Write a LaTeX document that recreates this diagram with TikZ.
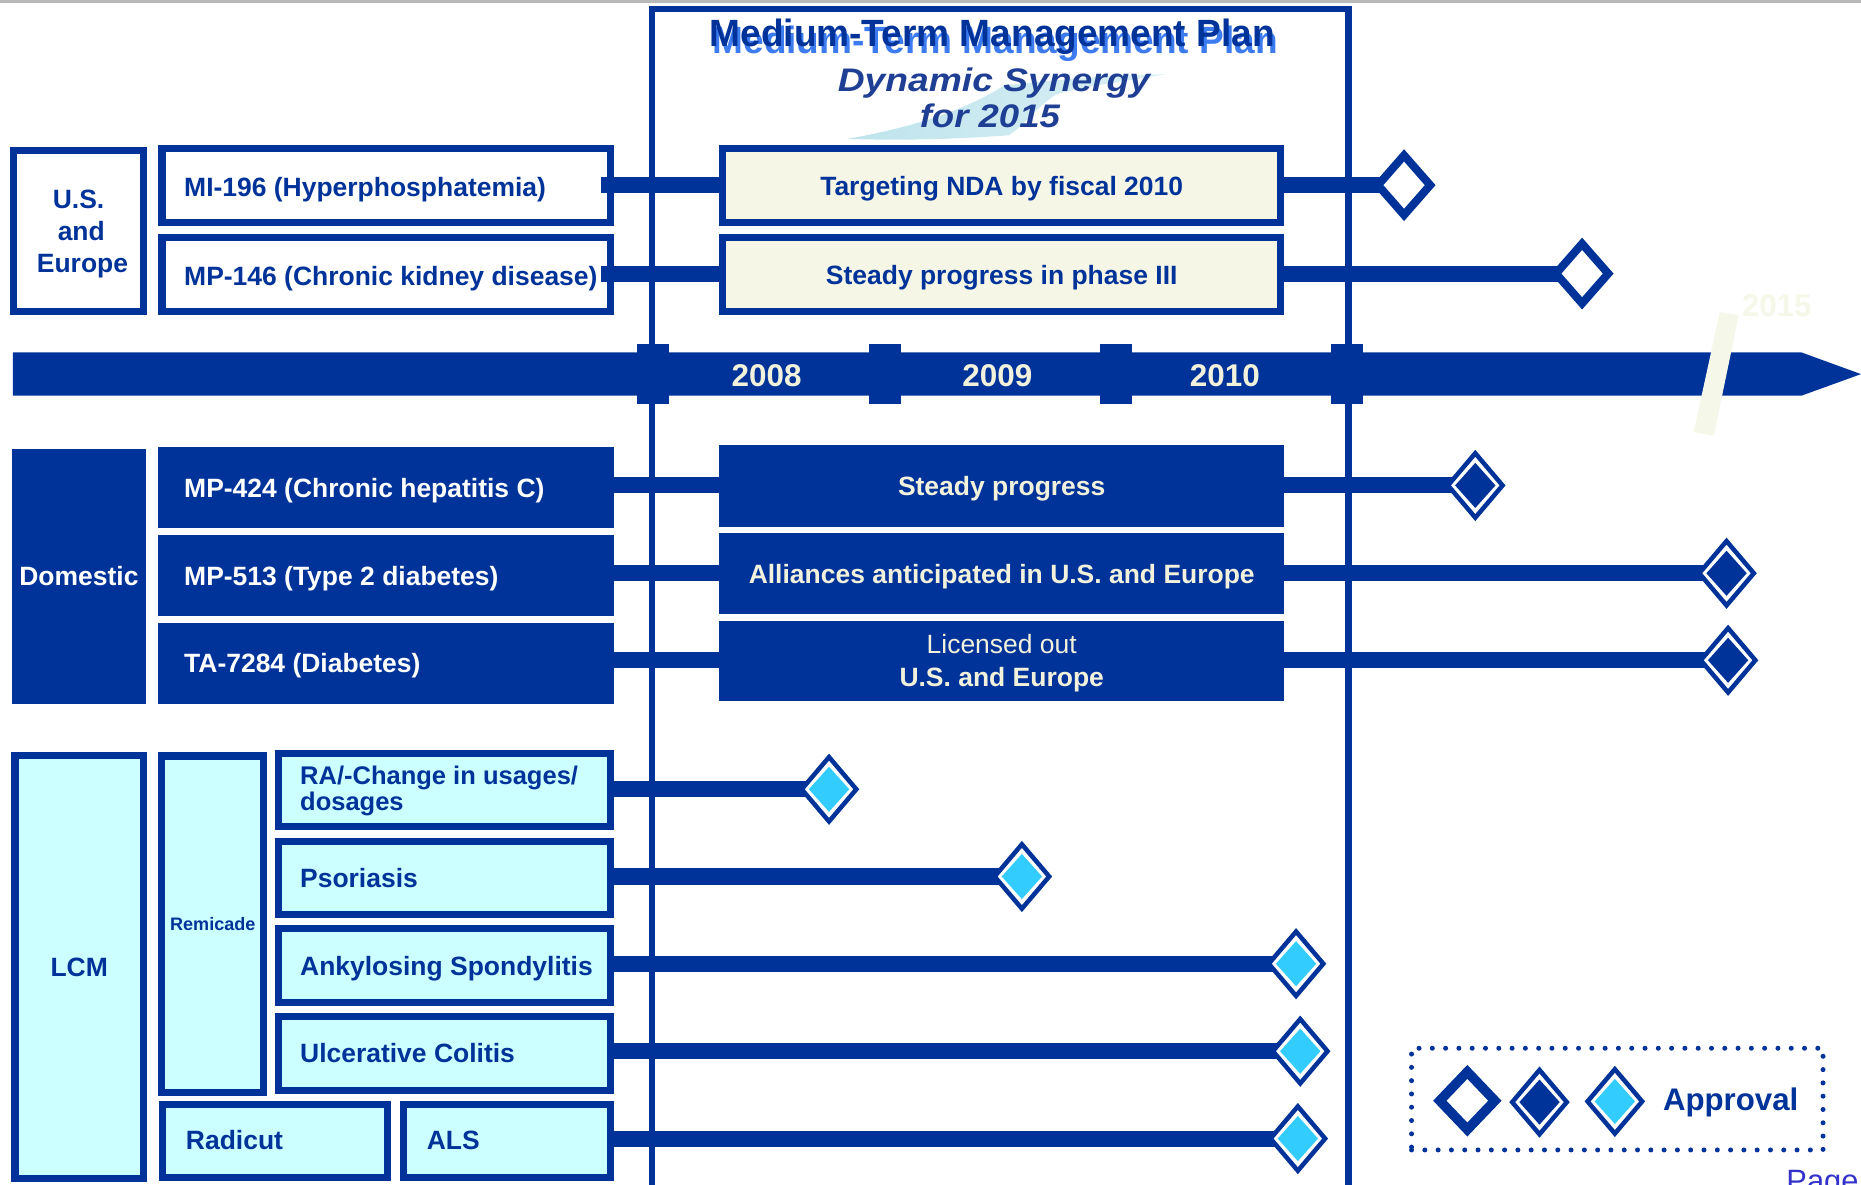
\documentclass[tikz,border=0pt]{standalone}
\usepackage{fontspec}
\setmainfont{Liberation Sans}
\usetikzlibrary{calc}
\definecolor{dblue}{HTML}{003399}
\definecolor{cream}{HTML}{F2F2DC}
\definecolor{boxcream}{HTML}{F6F6E6}
\definecolor{lcmcyan}{HTML}{CCFFFF}
\definecolor{dcyan}{HTML}{33CCFF}
\definecolor{shadowblue}{HTML}{3D7BF0}
\definecolor{logoblue}{HTML}{1F3F94}
\definecolor{swoosh}{HTML}{6FC2D6}
\definecolor{faint}{HTML}{F5F7E8}
\definecolor{pageblue}{HTML}{3333CC}
\newcommand\fsz[2]{\fontsize{#1}{#2}\selectfont}
\tikzset{
  pics/opendia/.style n args={3}{code={
    \filldraw[fill=white, draw=dblue, line width=#3, miter limit=10]
      (-#1,0) -- (0,-#2) -- (#1,0) -- (0,#2) -- cycle;}},
  pics/filldia/.style={code={
    \filldraw[fill=white, draw=dblue, line width=3.8pt]
      (-23,0) -- (0,-27.1) -- (23,0) -- (0,27.1) -- cycle;
    \fill[#1] (-17,0) -- (0,-19) -- (17,0) -- (0,19) -- cycle;}},
}
\begin{document}
\begin{tikzpicture}[x=1pt,y=-1pt,
  box/.style={draw=dblue, line width=6pt, fill=white, inner sep=0pt, outer sep=0pt},
  cbox/.style={box, fill=boxcream},
  lbox/.style={box, fill=lcmcyan},
  dbox/.style={fill=dblue, draw=none, inner sep=0pt, outer sep=0pt},
  lbl/.style={font=\bfseries\fsz{22.3}{27}, text=dblue, inner sep=0pt, text height=16pt, text depth=0pt, anchor=west},
  wlbl/.style={lbl, text=white},
  ctext/.style={font=\bfseries\fsz{22.3}{27}, text height=16pt, text depth=0pt},
  bar/.style={draw=dblue, line width=13.5pt},
  yearlbl/.style={font=\bfseries\fsz{26.5}{30}, text=cream, inner sep=0pt, text height=19pt, text depth=0pt},
  tickblk/.style={fill=dblue}
]
\useasboundingbox (0,0) rectangle (1568,997.6);
\fill[white] (0,0) rectangle (1568,997.6);
\clip (0,0) rectangle (1568,997.6);

% top gray line
\draw[gray!55, line width=2.6pt] (0,1.3) -- (1568,1.3);

% logo swoosh
\shade[left color=swoosh!45!white, middle color=swoosh!85!white, right color=swoosh!25!white]
  (714,117) .. controls (765,108) and (812,94) .. (846,72)
  .. controls (900,66) and (950,63) .. (982,62.5)
  .. controls (945,69) and (905,74) .. (889,80)
  .. controls (872,92) and (862,106) .. (850,114)
  .. controls (800,117.5) and (760,118.5) .. (714,117) -- cycle;

% title
\node[font=\bfseries\fsz{32}{36}, text=shadowblue, anchor=base, inner sep=0pt] (titleS) at (838.5,45) {\scalebox{0.975}[1]{Medium-Term Management Plan}};
\node[font=\bfseries\fsz{32}{36}, text=dblue, anchor=base, inner sep=0pt] (title) at (836,39.5) {\scalebox{0.975}[1]{Medium-Term Management Plan}};
\node[font=\bfseries\itshape\fsz{27.5}{32}, text=logoblue, anchor=base, inner sep=0pt] (logoA) at (837.5,77.5) {\scalebox{1.14}[1]{Dynamic Synergy}};
\node[font=\bfseries\itshape\fsz{27.5}{32}, text=logoblue, anchor=base, inner sep=0pt] (logoB) at (834,107.5) {\scalebox{1.12}[1]{for 2015}};

% axis
\fill[dblue] (10.9,297) -- (1518,297) -- (1568,315.2) -- (1518,333.3) -- (10.9,333.3) -- cycle;
\foreach \tx in {550.5,745.4,940.3,1135.2}
  \fill[tickblk] (\tx-13.5,290) rectangle (\tx+13.5,340);
% frame
\draw[dblue, line width=5.5pt] (549.3,1010) -- (549.3,7.4) -- (1136,7.4) -- (1136,1010);
% 2015 slash
\fill[faint] (1449,263) -- (1465,265.5) -- (1444,367) -- (1427,364) -- cycle;
\node[font=\bfseries\fsz{26.5}{30}, text=faint, inner sep=0pt, text height=19pt, text depth=0pt] (y2015) at (1497,257) {2015};
\node[yearlbl] (y2008) at (646,316) {2008};
\node[yearlbl] (y2009) at (840.3,316) {2009};
\node[yearlbl] (y2010) at (1032,316) {2010};

% diamond positions
\coordinate (dA) at (1183,156);
\coordinate (dB) at (1333,230.5);
\coordinate (dC) at (1243,409);
\coordinate (dD) at (1454.7,483);
\coordinate (dE) at (1456,556.3);
\coordinate (dF) at (698.5,665);
\coordinate (dG) at (861,738.5);
\coordinate (dH) at (1092,812);
\coordinate (dI) at (1095.5,885.7);
\coordinate (dJ) at (1093.5,959.3);

% ---- U.S. and Europe
\node[box, minimum width=109.2pt, minimum height=135.8pt] (us) at (66.2,194.5) {};
\node[font=\bfseries\fsz{22.3}{27}, text=dblue, inner sep=0pt, text height=16pt, text depth=0pt] (usT1) at (66.2,168) {U.S.};
\node[font=\bfseries\fsz{22.3}{27}, text=dblue, inner sep=0pt, text height=16pt, text depth=0pt] (usT2) at (68.5,195) {and};
\node[font=\bfseries\fsz{22.3}{27}, text=dblue, inner sep=0pt, text height=16pt, text depth=0pt] (usT3) at (69.5,221.8) {Europe};
\node[box, minimum width=378.1pt, minimum height=62.2pt] (mi) at (325.5,156.3) {};
\node[lbl] (miT) at (155,157.7) {MI-196 (Hyperphosphatemia)};
\node[box, minimum width=378.1pt, minimum height=62pt] (mp) at (325.5,231.4) {};
\node[lbl] (mpT) at (155,232.7) {MP-146 (Chronic kidney disease)};
\draw[bar] (mi.east |- dA) ++(-8,0) -- (dA);
\draw[bar] (mp.east |- dB) ++(-8,0) -- (dB);
\node[cbox, ctext, text=dblue, minimum width=470pt, minimum height=62.2pt] (tg) at (844,156.3) {Targeting NDA by fiscal 2010};
\node[cbox, ctext, text=dblue, minimum width=470pt, minimum height=62pt] (sp3) at (844,231.4) {Steady progress in phase III};

% ---- Domestic
\node[dbox, ctext, text=white, minimum width=113pt, minimum height=215pt] (dom) at (66.5,485.5) {Domestic};
\node[dbox, minimum width=384.5pt, minimum height=67.6pt] (m424) at (325.3,410.8) {};
\node[wlbl] (m424T) at (155,411) {MP-424 (Chronic hepatitis C)};
\node[dbox, minimum width=384.5pt, minimum height=68pt] (m513) at (325.3,485) {};
\node[wlbl] (m513T) at (155,485) {MP-513 (Type 2 diabetes)};
\node[dbox, minimum width=384.5pt, minimum height=68.3pt] (ta) at (325.3,558.9) {};
\node[wlbl] (taT) at (155,558.5) {TA-7284 (Diabetes)};
\draw[bar] (m424.east |- dC) -- (dC);
\draw[bar] (m513.east |- dD) -- (dD);
\draw[bar] (ta.east |- dE) -- (dE);
\node[dbox, ctext, text=cream, minimum width=476pt, minimum height=68.7pt] (sp) at (844,409.4) {Steady progress};
\node[dbox, ctext, text=cream, minimum width=476pt, minimum height=68pt] (al) at (844,483.3) {Alliances anticipated in U.S. and Europe};
\node[dbox, minimum width=476pt, minimum height=67.6pt] (lic) at (844,556.8) {};
\node[font=\fsz{22.3}{27}, text=cream, inner sep=0pt, anchor=base] (licA) at (844,551) {Licensed out};
\node[font=\bfseries\fsz{22.3}{27}, text=cream, inner sep=0pt, anchor=base] (licB) at (844,578.5) {U.S. and Europe};

% ---- LCM
\node[lbox, ctext, text=dblue, minimum width=108.2pt, minimum height=356.7pt] (lcm) at (66.7,814.7) {LCM};
\node[lbox, font=\bfseries\fsz{15.2}{18}, text=dblue, text height=11pt, text depth=0pt, minimum width=85.8pt, minimum height=283.4pt] (rem) at (179.3,778.7) {Remicade};
\node[lbox, minimum width=280.1pt, minimum height=61.4pt] (ra) at (374.5,665.5) {};
\node[font=\bfseries\fsz{21.5}{22}, text=dblue, inner sep=0pt, anchor=base west] (raT1) at (252.7,661.3) {RA/-Change in usages/};
\node[font=\bfseries\fsz{21.5}{22}, text=dblue, inner sep=0pt, anchor=base west] (raT2) at (252.7,683) {dosages};
\node[lbox, minimum width=280.1pt, minimum height=61.9pt] (ps) at (374.5,739.7) {};
\node[lbl] (psT) at (252.7,740) {Psoriasis};
\node[lbox, minimum width=280.1pt, minimum height=62pt] (an) at (374.5,813.5) {};
\node[lbl] (anT) at (252.7,813.8) {Ankylosing Spondylitis};
\node[lbox, minimum width=280.1pt, minimum height=62pt] (uc) at (374.5,887.6) {};
\node[lbl] (ucT) at (252.7,887.4) {Ulcerative Colitis};
\node[lbox, minimum width=189.3pt, minimum height=61.9pt] (rad) at (231.8,961.2) {};
\node[lbl] (radT) at (156.5,960.8) {Radicut};
\node[lbox, minimum width=174.5pt, minimum height=61.9pt] (als) at (427.3,961.2) {};
\node[lbl] (alsT) at (359.4,960.8) {ALS};
\draw[bar] (ra.east |- dF) -- (dF);
\draw[bar] (ps.east |- dG) -- (dG);
\draw[bar] (an.east |- dH) -- (dH);
\draw[bar] (uc.east |- dI) -- (dI);
\draw[bar] (als.east |- dJ) -- (dJ);

% diamonds
\pic at (dA) {opendia={22}{25.1}{6.8pt}};
\pic at (dB) {opendia={22}{25.1}{6.8pt}};
\pic at (dC) {filldia=dblue};
\pic at (dD) {filldia=dblue};
\pic at (dE) {filldia=dblue};
\pic at (dF) {filldia=dcyan};
\pic at (dG) {filldia=dcyan};
\pic at (dH) {filldia=dcyan};
\pic at (dI) {filldia=dcyan};
\pic at (dJ) {filldia=dcyan};

% legend
\node[draw=dblue, line width=4.2pt, line cap=round, dash pattern=on 0pt off 11.2pt, minimum width=346.7pt, minimum height=85.7pt, inner sep=0pt] (leg) at (1362.65,926.05) {};
\coordinate (lgA) at (1236.3,927.4);
\coordinate (lgB) at (1297.1,928.6);
\coordinate (lgC) at (1360.6,928);
\pic at (lgA) {opendia={23.2}{24.3}{8.1pt}};
\pic at (lgB) {filldia=dblue};
\pic at (lgC) {filldia=dcyan};
\node[font=\bfseries\fsz{26.3}{30}, text=dblue, inner sep=0pt, anchor=base west] (appr) at (1401,935.7) {Approval};

% page footer (cut off)
\node[font=\fsz{26}{30}, text=pageblue, inner sep=0pt, anchor=base west] (pg) at (1505,1004) {Page};
\end{tikzpicture}
\end{document}
